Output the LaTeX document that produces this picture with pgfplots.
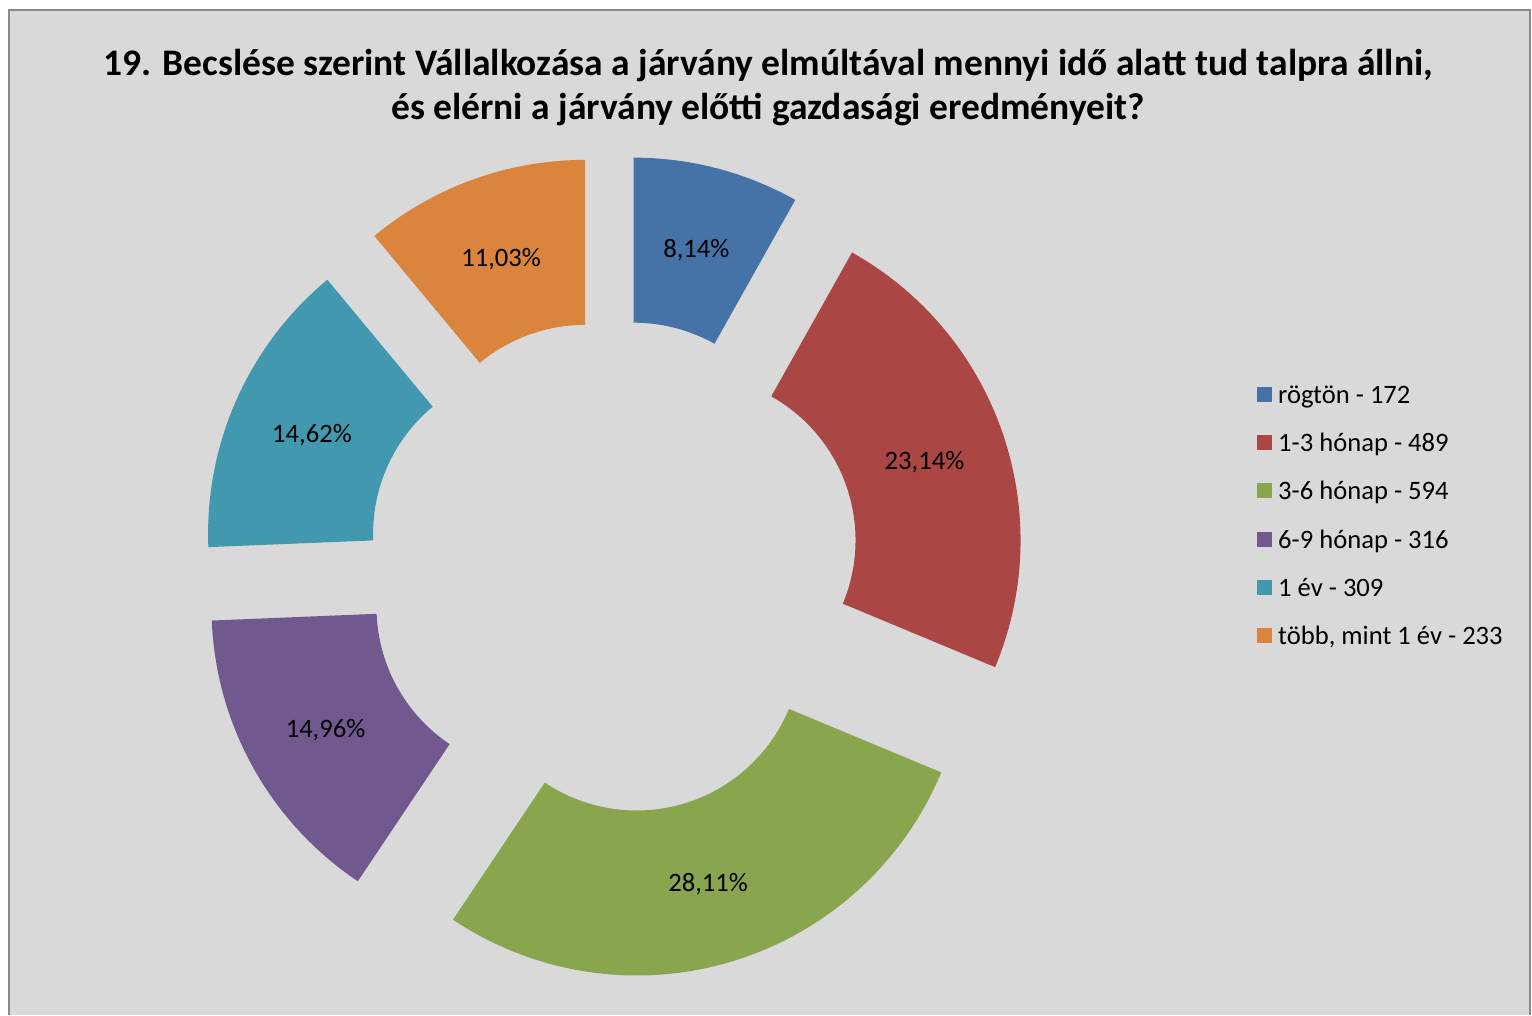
\documentclass[border=0pt]{standalone}
\usepackage{pgfplots}
\pgfplotsset{compat=1.18}
\usepackage{fontspec}
\setmainfont{Carlito}

\definecolor{c0}{HTML}{4572A7}
\definecolor{c1}{HTML}{AA4643}
\definecolor{c2}{HTML}{89A54E}
\definecolor{c3}{HTML}{71588F}
\definecolor{c4}{HTML}{4198AF}
\definecolor{c5}{HTML}{DB843D}
\definecolor{bg}{HTML}{D9D9D9}
\definecolor{frame}{HTML}{898989}

% answer counts: rögtön, 1-3 hónap, 3-6 hónap, 6-9 hónap, 1 év, több mint 1 év
\def\counts{172,489,594,316,309,233}
% geometry (pt = px): centre, radii, explosion
\def\cx{613}\def\cy{448}\def\Ro{330}\def\Ri{165}\def\Ex{82}

\def\total{0}
\foreach \v in \counts {\pgfmathparse{\total+\v}\xdef\total{\pgfmathresult}}%
\def\cum{90}
\foreach \v [count=\i from 0] in \counts {%
  \pgfmathsetmacro\sw{\v/(\total/360)}%
  \pgfmathsetmacro\ea{\cum-\sw}%
  \pgfmathsetmacro\ma{\cum-\sw/2}%
  \pgfmathsetmacro\pc{\v/(\total/100)}%
  \pgfmathsetmacro\lx{\cx+(\Ex+(\Ro+\Ri)/2)*cos(\ma)}%
  \pgfmathsetmacro\ly{\cy+(\Ex+(\Ro+\Ri)/2)*sin(\ma)-9.5}%
  \expandafter\xdef\csname sA\i\endcsname{\cum}%
  \expandafter\xdef\csname eA\i\endcsname{\ea}%
  \expandafter\xdef\csname mA\i\endcsname{\ma}%
  \expandafter\xdef\csname pc\i\endcsname{\pc}%
  \expandafter\xdef\csname lx\i\endcsname{\lx}%
  \expandafter\xdef\csname ly\i\endcsname{\ly}%
  \xdef\cum{\ea}%
}

\begin{document}
\begin{tikzpicture}
\begin{axis}[
  width=1532pt, height=1015pt, scale only axis,
  xmin=0, xmax=1532, ymin=0, ymax=1015,
  hide axis, clip=false,
  /pgf/number format/assume math mode=true,
]
% background and frame
\fill[white] (axis cs:0,0) rectangle (axis cs:1532,1015);
\fill[bg] (axis cs:8.5,0) rectangle (axis cs:1529.5,1004.5);
\draw[frame, line width=2pt] (axis cs:8.5,0) -- (axis cs:8.5,1004.5) -- (axis cs:1529.5,1004.5) -- (axis cs:1529.5,0);

% title
\node[anchor=base, font=\bfseries\fontsize{37.5}{45}\selectfont] at (axis cs:768,939) {19. Becslése szerint Vállalkozása a járvány elmúltával mennyi idő alatt tud talpra állni,};
\node[anchor=base, font=\bfseries\fontsize{37.5}{45}\selectfont] at (axis cs:768,895) {és elérni a járvány előtti gazdasági eredményeit?};

% donut sectors
\pgfplotsinvokeforeach{0,...,5}{%
  \edef\tmp{\noexpand\fill[c#1, shift={(axis cs:\cx,\cy)}]
    ([shift={(\csname mA#1\endcsname:\Ex pt)}]\csname sA#1\endcsname:\Ro pt)
    arc[start angle=\csname sA#1\endcsname, end angle=\csname eA#1\endcsname, radius=\Ro pt]
    -- ([shift={(\csname mA#1\endcsname:\Ex pt)}]\csname eA#1\endcsname:\Ri pt)
    arc[start angle=\csname eA#1\endcsname, end angle=\csname sA#1\endcsname, radius=\Ri pt]
    -- cycle;
    \noexpand\node[anchor=base, font=\noexpand\fontsize{26.6}{32}\noexpand\selectfont]
      at (axis cs:\csname lx#1\endcsname,\csname ly#1\endcsname)
      {\noexpand\pgfmathprintnumber[fixed,precision=2,zerofill,use comma,assume math mode=true]{\csname pc#1\endcsname}\noexpand\%};
  }\tmp
}

% legend
\pgfplotsinvokeforeach{0,...,5}{%
  \fill[c#1] (axis cs:1257,{1015-394.5-48.2*#1-7.5}) rectangle (axis cs:1272,{1015-394.5-48.2*#1+7.5});
}
\begin{scope}[every node/.style={anchor=base west, font=\fontsize{26.6}{32}\selectfont, inner xsep=0pt}]
\node at (axis cs:1278,611.5) {rögtön - 172};
\node at (axis cs:1278,563.3) {1-3 hónap - 489};
\node at (axis cs:1278,515.1) {3-6 hónap - 594};
\node at (axis cs:1278,466.9) {6-9 hónap - 316};
\node at (axis cs:1278,418.7) {1 év - 309};
\node at (axis cs:1278,370.5) {több, mint 1 év - 233};
\end{scope}
\end{axis}
\end{tikzpicture}
\end{document}
